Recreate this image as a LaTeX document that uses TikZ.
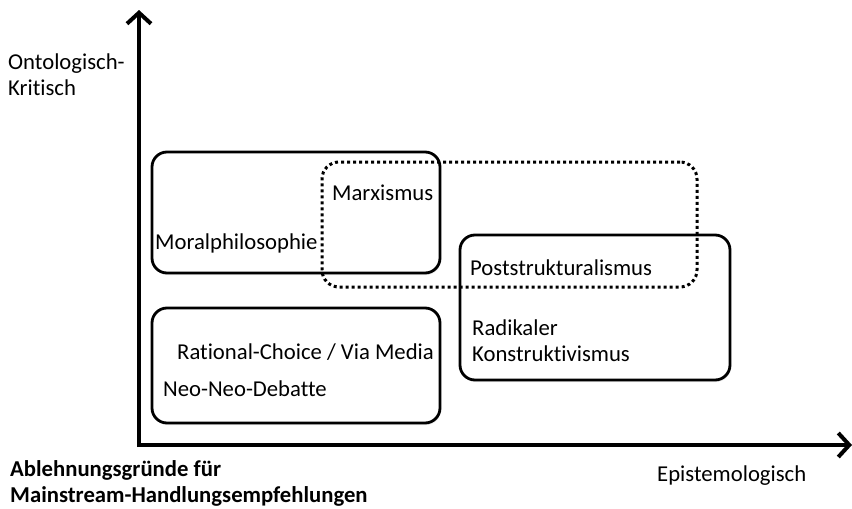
\documentclass[tikz,border=0pt]{standalone}
\usepackage{fontspec}
\setmainfont{Carlito}[Ligatures=NoCommon]
\usetikzlibrary{arrows.meta,shadows}

\tikzset{
  achse/.style={line width=4pt, -{Straight Barb[length=11pt,width=24pt]}},
  gruppe/.style={draw, line width=2.8pt, rounded corners=15pt, inner sep=0pt,
    drop shadow={opacity=0.18, shadow xshift=1pt, shadow yshift=-2pt}, fill=white},
  gepunktet/.style={draw, line width=3pt, rounded corners=17pt, inner sep=0pt,
    dash pattern=on 3pt off 3pt},
  beschriftung/.style={anchor=west, inner sep=0pt, font=\fontsize{22.7}{26}\selectfont},
}

\begin{document}
\begin{tikzpicture}[x=1pt, y=-1pt]
 \useasboundingbox (0,0) rectangle (852,509);

 % Achsen
 \coordinate (ursprung) at (139,447);
 \coordinate (ecke) at (137,445);
 \coordinate (yende) at (139,10);
 \coordinate (xende) at (852,445);
 \draw[achse] (ursprung) -- (yende);
 \draw[achse] (ecke) -- (xende);

 % Gruppen
 \node[gruppe, minimum width=288pt, minimum height=121pt] (moral) at (296,212.5) {};
 \node[gruppe, minimum width=288pt, minimum height=115pt] (neoneo) at (296,365.5) {};
 \node[gruppe, minimum width=270pt, minimum height=145pt] (radikal) at (595,307.5) {};
 \node[gepunktet, minimum width=375pt, minimum height=125pt] (kritik) at (509.5,224.5) {};

 % Beschriftungen
 \node[beschriftung, align=left] (ontologisch) at (8,75) {Ontologisch-\\Kritisch};
 \node[beschriftung] (marxismus) at (332,193) {Marxismus};
 \node[beschriftung] (moralphil) at (155,243) {Moralphilosophie};
 \node[beschriftung] (poststruk) at (470,268) {Poststrukturalismus};
 \node[beschriftung, align=left] (konstrukt) at (472,341) {Radikaler\\Konstruktivismus};
 \node[beschriftung] (rational) at (177,352) {Rational-Choice / Via Media};
 \node[beschriftung] (debatte) at (163,389) {Neo-Neo-Debatte};
 \node[beschriftung, align=left, font=\fontsize{22.7}{26}\selectfont\bfseries] (ablehnung) at (10,483) {Ablehnungsgründe für\\Mainstream-Handlungsempfehlungen};
 \node[beschriftung] (epistemo) at (657,476) {Epistemologisch};
\end{tikzpicture}
\end{document}
